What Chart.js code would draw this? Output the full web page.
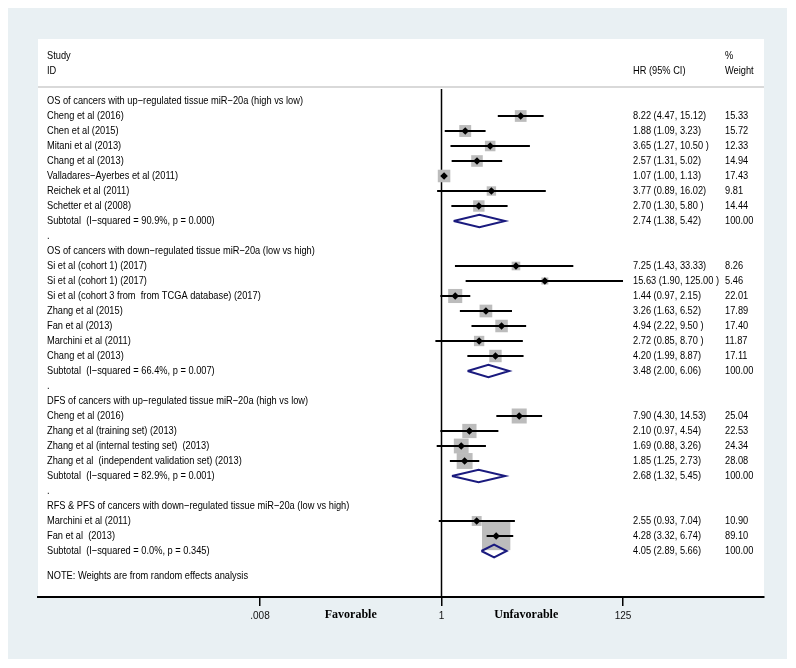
<!DOCTYPE html>
<html>
<head>
<meta charset="utf-8">
<script src="https://cdn.jsdelivr.net/npm/chart.js@4"></script>
<style>
  html, body { margin: 0; padding: 0; background: #fff; }
  canvas { display: block; }
</style>
</head>
<body>
<canvas id="myChart" width="796" height="668"></canvas>
<script>
// rows of the forest plot, top to bottom
const rowLabels = [
  'OS of cancers with up−regulated tissue miR−20a (high vs low)',
  'Cheng et al (2016)',
  'Chen et al (2015)',
  'Mitani et al (2013)',
  'Chang et al (2013)',
  'Valladares−Ayerbes et al (2011)',
  'Reichek et al (2011)',
  'Schetter et al (2008)',
  'Subtotal  (I−squared = 90.9%, p = 0.000)',
  '.',
  'OS of cancers with down−regulated tissue miR−20a (low vs high)',
  'Si et al (cohort 1) (2017)',
  'Si et al (cohort 1) (2017)',
  'Si et al (cohort 3 from  from TCGA database) (2017)',
  'Zhang et al (2015)',
  'Fan et al (2013)',
  'Marchini et al (2011)',
  'Chang et al (2013)',
  'Subtotal  (I−squared = 66.4%, p = 0.007)',
  '.',
  'DFS of cancers with up−regulated tissue miR−20a (high vs low)',
  'Cheng et al (2016)',
  'Zhang et al (training set) (2013)',
  'Zhang et al (internal testing set)  (2013)',
  'Zhang et al  (independent validation set) (2013)',
  'Subtotal  (I−squared = 82.9%, p = 0.001)',
  '.',
  'RFS & PFS of cancers with down−regulated tissue miR−20a (low vs high)',
  'Marchini et al (2011)',
  'Fan et al  (2013)',
  'Subtotal  (I−squared = 0.0%, p = 0.345)'
];
const hr     = [null, 8.22, 1.88, 3.65, 2.57, 1.07, 3.77, 2.70, 2.74, null,
                null, 7.25, 15.63, 1.44, 3.26, 4.94, 2.72, 4.20, 3.48, null,
                null, 7.90, 2.10, 1.69, 1.85, 2.68, null,
                null, 2.55, 4.28, 4.05];
const lower  = [null, 4.47, 1.09, 1.27, 1.31, 1.00, 0.89, 1.30, 1.38, null,
                null, 1.43, 1.90, 0.97, 1.63, 2.22, 0.85, 1.99, 2.00, null,
                null, 4.30, 0.97, 0.88, 1.25, 1.32, null,
                null, 0.93, 3.32, 2.89];
const upper  = [null, 15.12, 3.23, 10.50, 5.02, 1.13, 16.02, 5.80, 5.42, null,
                null, 33.33, 125.00, 2.15, 6.52, 9.50, 8.70, 8.87, 6.06, null,
                null, 14.53, 4.54, 3.26, 2.73, 5.45, null,
                null, 7.04, 6.74, 5.66];
const weights = [null, 15.33, 15.72, 12.33, 14.94, 17.43, 9.81, 14.44, 100.00, null,
                 null, 8.26, 5.46, 22.01, 17.89, 17.40, 11.87, 17.11, 100.00, null,
                 null, 25.04, 22.53, 24.34, 28.08, 100.00, null,
                 null, 10.90, 89.10, 100.00];
const hrLabels = ['', '8.22 (4.47, 15.12)', '1.88 (1.09, 3.23)', '3.65 (1.27, 10.50 )', '2.57 (1.31, 5.02)',
  '1.07 (1.00, 1.13)', '3.77 (0.89, 16.02)', '2.70 (1.30, 5.80 )', '2.74 (1.38, 5.42)', '',
  '', '7.25 (1.43, 33.33)', '15.63 (1.90, 125.00 )', '1.44 (0.97, 2.15)', '3.26 (1.63, 6.52)',
  '4.94 (2.22, 9.50 )', '2.72 (0.85, 8.70 )', '4.20 (1.99, 8.87)', '3.48 (2.00, 6.06)', '',
  '', '7.90 (4.30, 14.53)', '2.10 (0.97, 4.54)', '1.69 (0.88, 3.26)', '1.85 (1.25, 2.73)',
  '2.68 (1.32, 5.45)', '', '', '2.55 (0.93, 7.04)', '4.28 (3.32, 6.74)', '4.05 (2.89, 5.66)'];
const tickValues = [0.008, 1, 125];
const tickLabels = ['.008', '1', '125'];
const sideLabels = ['Favorable', 'Unfavorable'];
const noteText = 'NOTE: Weights are from random effects analysis';

const SANS = '"Liberation Sans", Arial, sans-serif';

// build the marks from the arrays
const ciData = [], boxData = [], boxRadius = [], estData = [], diamondData = [];
rowLabels.forEach((lab, i) => {
  if (hr[i] == null) return;
  if (lab.startsWith('Subtotal')) {
    diamondData.push({x: lower[i], y: i}, {x: hr[i], y: i - 0.42}, {x: upper[i], y: i},
                     {x: hr[i], y: i + 0.42}, {x: lower[i], y: i}, {x: hr[i], y: null});
  } else {
    ciData.push({x: lower[i], y: i}, {x: upper[i], y: i}, {x: upper[i], y: null});
    boxData.push({x: hr[i], y: i});
    boxRadius.push(3 * Math.sqrt(weights[i]) / Math.SQRT2); // box side ~ sqrt(weight)
    estData.push({x: hr[i], y: i});
  }
});

// the original uses a narrow font, so squeeze the text a bit
let squeeze = 1;
function narrowText(ctx, str, x, y) {
  ctx.save();
  ctx.translate(x, y);
  ctx.scale(squeeze, 1);
  ctx.fillText(str, 0, 0);
  ctx.restore();
}

const forestPlugin = {
  id: 'forest',
  beforeDraw(chart) {
    const {ctx, chartArea: a} = chart;
    ctx.save();
    ctx.fillStyle = '#fff';
    ctx.fillRect(0, 0, chart.width, chart.height);
    ctx.fillStyle = '#e9f0f3';
    ctx.fillRect(8, 8, 779, 651);
    ctx.fillStyle = '#fff';
    ctx.fillRect(a.left, a.top, a.right - a.left, a.bottom - a.top);
    // rule under the header
    const yRule = chart.scales.y.getPixelForValue(-0.93);
    ctx.strokeStyle = '#cdcdcd';
    ctx.lineWidth = 1.5;
    ctx.beginPath();
    ctx.moveTo(a.left, yRule);
    ctx.lineTo(a.right, yRule);
    ctx.stroke();
    ctx.restore();
  },
  afterDatasetsDraw(chart) {
    const {ctx} = chart;
    const y = chart.scales.y, x = chart.scales.x;
    const colStudy = 47, colHR = 633, colW = 725;
    ctx.save();
    ctx.fillStyle = '#000';
    ctx.textBaseline = 'middle';
    ctx.font = '11.5px ' + SANS;
    squeeze = 256 / ctx.measureText(rowLabels[0]).width;
    narrowText(ctx, 'Study', colStudy, y.getPixelForValue(-3));
    narrowText(ctx, 'ID', colStudy, y.getPixelForValue(-2));
    narrowText(ctx, 'HR (95% CI)', colHR, y.getPixelForValue(-2));
    narrowText(ctx, '%', colW, y.getPixelForValue(-3));
    narrowText(ctx, 'Weight', colW, y.getPixelForValue(-2));
    rowLabels.forEach((lab, i) => {
      const py = y.getPixelForValue(i);
      narrowText(ctx, lab, colStudy, py);
      if (hr[i] != null) {
        narrowText(ctx, hrLabels[i], colHR, py);
        narrowText(ctx, weights[i].toFixed(2), colW, py);
      }
    });
    narrowText(ctx, noteText, colStudy, y.getPixelForValue(31.67));
    // favourable / unfavourable under the axis
    ctx.font = 'bold 12px "Liberation Serif", "Times New Roman", serif';
    ctx.textAlign = 'center';
    const yLab = chart.chartArea.bottom + 18;
    ctx.fillText(sideLabels[0], x.getPixelForValue(Math.sqrt(tickValues[0] * tickValues[1])), yLab);
    ctx.fillText(sideLabels[1], x.getPixelForValue(Math.sqrt(tickValues[1] * tickValues[2])) - 6, yLab);
    ctx.restore();
  }
};

new Chart(document.getElementById('myChart'), {
  type: 'scatter',
  data: {
    datasets: [
      { // line of no effect
        data: [{x: 1, y: -0.8}, {x: 1, y: 34}],
        showLine: true, borderColor: '#000', borderWidth: 1.5, pointRadius: 0, order: 5
      },
      { // weight boxes
        data: boxData, pointStyle: 'rect', pointRadius: boxRadius,
        backgroundColor: '#bcbcbc', borderWidth: 0, order: 4
      },
      { // confidence intervals
        data: ciData, showLine: true, spanGaps: false,
        borderColor: '#000', borderWidth: 2, pointRadius: 0, order: 3
      },
      { // pooled estimates
        data: diamondData, showLine: true, spanGaps: false,
        borderColor: '#1a1a7e', borderWidth: 2, borderJoinStyle: 'miter', pointRadius: 0, order: 2
      },
      { // point estimates
        data: estData, pointStyle: 'rectRot', pointRadius: 3.8,
        backgroundColor: '#000', borderWidth: 0, order: 1
      }
    ]
  },
  options: {
    responsive: false,
    animation: false,
    events: [],
    layout: { padding: { left: 38, right: 32, top: 39, bottom: 42 } },
    plugins: { legend: { display: false }, tooltip: { enabled: false } },
    scales: {
      x: {
        type: 'logarithmic',
        min: 2.18e-5,
        max: 5317,
        afterBuildTicks: s => { s.ticks = tickValues.map(v => ({ value: v })); },
        ticks: {
          autoSkip: false, maxRotation: 0, color: '#111', padding: 4,
          font: { family: SANS, size: 10 },
          callback: v => tickLabels[tickValues.indexOf(v)]
        },
        grid: { drawOnChartArea: false, drawTicks: true, tickLength: 9, color: '#000', lineWidth: 1.5 },
        border: { display: true, color: '#000', width: 2 }
      },
      y: {
        display: false,
        reverse: true,
        min: -4.133,
        max: 33.067
      }
    }
  },
  plugins: [forestPlugin]
});
</script>
</body>
</html>
